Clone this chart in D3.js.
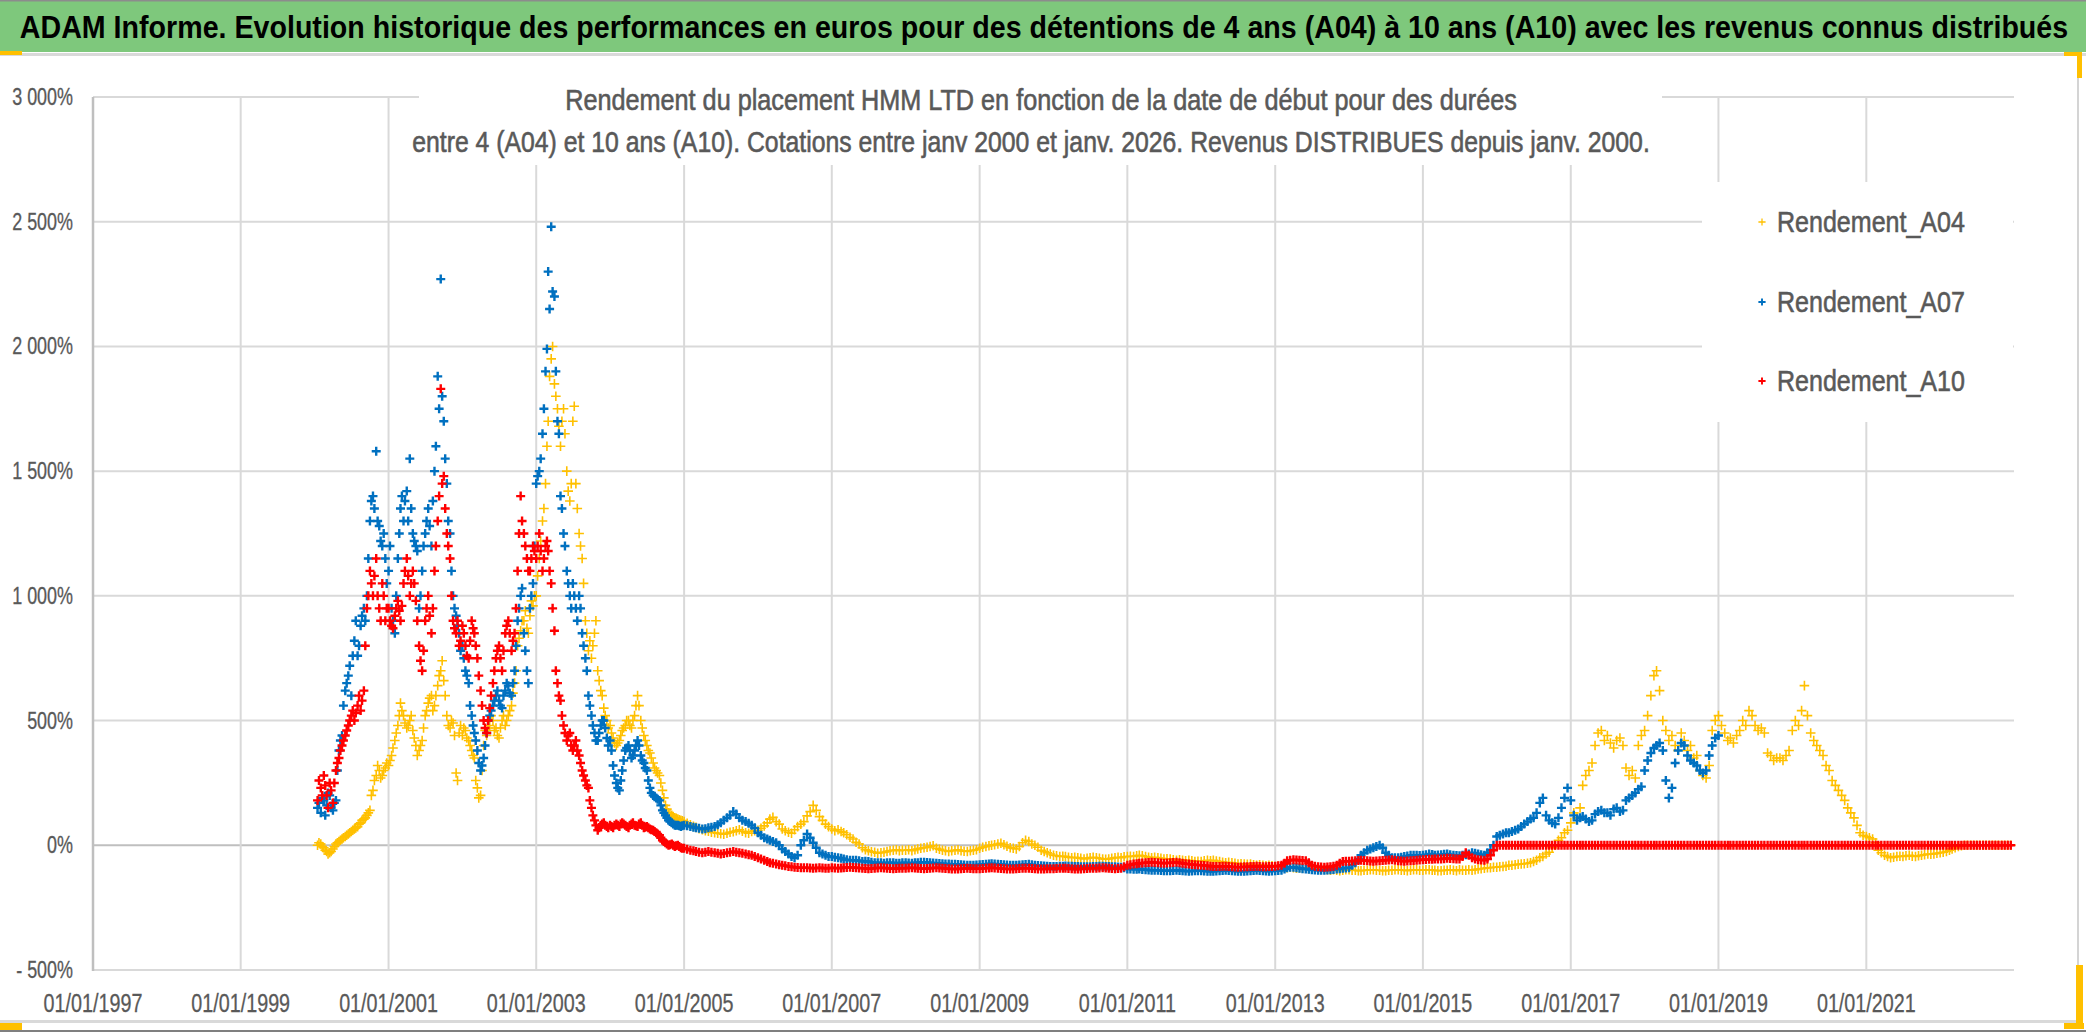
<!DOCTYPE html>
<html>
<head>
<meta charset="utf-8">
<script src="https://cdn.jsdelivr.net/npm/d3@7"></script>
<style>
html, body { margin: 0; padding: 0; background: #fff; }
svg { display: block; }
</style>
</head>
<body>
<svg id="chart"></svg>
<script>
const width = 2086, height = 1032;
const plot = {left: 93, right: 2014, top: 97, bottom: 970};

// axis ticks and labels
const yTicks = [-500, 0, 500, 1000, 1500, 2000, 2500, 3000];
const yTickLabels = ["- 500%", "0%", "500%", "1 000%", "1 500%", "2 000%", "2 500%", "3 000%"];
const xTickYears = [1997, 1999, 2001, 2003, 2005, 2007, 2009, 2011, 2013, 2015, 2017, 2019, 2021];
const xTickLabels = ["01/01/1997", "01/01/1999", "01/01/2001", "01/01/2003", "01/01/2005", "01/01/2007",
  "01/01/2009", "01/01/2011", "01/01/2013", "01/01/2015", "01/01/2017", "01/01/2019", "01/01/2021"];

const seriesNames = ["Rendement_A04", "Rendement_A07", "Rendement_A10"];

// values in %, four a month (1st, 8th, 16th, 23rd), from 16 Jan 2000 to 23 Dec 2004
const a04Early = [
  0, 10,
  5, -5, -10, -20,  -25, -35, -30, -25,  -15, -5, 5, 10,  15, 20, 25, 30,  35, 40, 45, 50,  55, 60, 65, 70,
  75, 85, 90, 100,  105, 110, 120, 130,  140, 200, 220, 260,  280, 320, 300, 270,  280, 300, 310, 330,
  320, 340, 360, 390,  420, 450, 480, 520,  570, 540, 520, 490,  470, 480, 500, 520,  460, 430, 400, 360,  380, 400, 420, 470,
  520, 540, 570, 590,  600, 540, 560, 600,  640, 680, 700, 740,  660, 600, 520, 480,  470, 500, 490, 440,  290, 260, 450, 480,
  440, 470, 460, 430,  420, 400, 380, 360,  350, 260, 230, 190,  200, 300, 400, 460,  440, 470, 480, 520,  500, 460, 470, 440,
  430, 470, 500, 520,  480, 500, 520, 540,  560, 610, 650, 700,  800, 830, 860, 900,  900, 940, 870, 850,  920, 980, 960, 1000,
  1000, 1080, 1150, 1220,  1300, 1350, 1450, 1600,  1700, 1880, 1950, 2000,  1850, 1800, 1750, 1680,  1600, 1700, 1750, 1650,  1500, 1420, 1380, 1450,
  1700, 1760, 1450, 1350,  1250, 1200, 1150, 1050,  900, 850, 780, 820,  750, 800, 850, 900,  700, 660, 620, 600,  550, 520, 500, 470,
  480, 450, 430, 410,  400, 410, 420, 440,  460, 470, 480, 500,  500, 480, 470, 500,  520, 560, 600, 560,  500, 470, 440, 420,
  400, 380, 370, 350,  330, 310, 300, 290,  280, 250, 220, 190,  160, 145, 130, 125,  120, 115, 110, 108,  105, 102, 100, 98
];
const a07Early = [
  150, 170,
  130, 190, 180, 120,  160, 210, 200, 150,  140, 170, 180, 300,  380, 420, 440, 560,  620, 650, 680, 720,  600, 760, 820, 900,
  760, 800, 880, 920,  950, 900, 1000, 1150,  1300, 1380, 1400, 1350,  1580, 1300, 1280, 1220,  1200, 1250, 1150, 1050,
  1100, 1200, 950, 900,  850, 1000, 1150, 1250,  1350, 1400, 1300, 1380,  1420, 1300, 1550, 1350,  1250, 1220, 1200, 1180,  950, 1000, 1100, 1200,
  1250, 1300, 1350, 1280,  1200, 1380, 1500, 1600,  1880, 1750, 2270, 1800,  1700, 1550, 1450, 1300,  1250, 1100, 1000, 950,  920, 880, 850, 780,
  800, 750, 700, 680,  650, 560, 520, 480,  450, 420, 380, 330,  300, 320, 350, 400,  450, 500, 520, 540,  560, 580, 600, 620,
  580, 560, 550, 600,  620, 650, 640, 610,  600, 650, 700, 800,  900, 950, 1000, 1030,  850, 780, 700, 650,  950, 1000, 1050, 1200,
  1450, 1480, 1500, 1550,  1650, 1750, 1900, 1990,  2300, 2150, 2480, 2220,  2200, 1900, 1700, 1650,  1400, 1350, 1250, 1200,  1100, 1050, 1000, 950,
  1050, 1000, 950, 900,  1000, 950, 850, 800,  750, 700, 600, 560,  520, 480, 450, 420,  420, 450, 480, 500,  500, 470, 430, 400,
  420, 380, 320, 280,  250, 230, 220, 260,  300, 340, 380, 390,  400, 380, 350, 360,  380, 400, 420, 400,  360, 340, 330, 310,
  300, 260, 230, 210,  200, 195, 190, 185,  180, 160, 140, 130,  120, 110, 100, 95,  90, 85, 80, 80,  80, 78, 75, 78
];
const a10Early = [
  180, 260,
  230, 200, 280, 240,  200, 150, 250, 220,  170, 250, 300, 330,  350, 380, 400, 420,  440, 460, 480, 500,  520, 540, 500, 530,
  560, 600, 540, 580,  620, 800, 950, 1000,  1100, 1050, 1000, 1080,  1150, 1000, 950, 900,  1050, 1000, 900, 950,
  950, 900, 880, 870,  920, 950, 980, 940,  900, 960, 1050, 1100,  1150, 1080, 1000, 1050,  1100, 1050, 980, 900,  800, 740, 700, 780,
  900, 950, 1000, 920,  850, 950, 1100, 1200,  1300, 1400, 1830, 1450,  1480, 1350, 1250, 1200,  1150, 1000, 900, 870,  850, 900, 800, 820,
  880, 850, 800, 760,  750, 820, 900, 870,  850, 800, 750, 680,  620, 560, 500, 470,  450, 500, 550, 600,  650, 700, 750, 780,
  800, 750, 700, 780,  850, 880, 900, 850,  780, 820, 850, 950,  1100, 1250, 1400, 1300,  1250, 1200, 1150, 1100,  1100, 1150, 1200, 1180,
  1150, 1200, 1250, 1180,  1100, 1150, 1200, 1220,  1180, 1100, 1050, 950,  860, 700, 650, 600,  580, 520, 480, 450,  420, 440, 450, 400,
  380, 400, 420, 380,  360, 330, 300, 280,  260, 240, 230, 180,  150, 120, 100, 80,  60, 70, 80, 85,  90, 80, 75, 70,
  80, 75, 70, 80,  85, 80, 75, 85,  90, 85, 80, 75,  70, 80, 85, 90,  80, 78, 75, 85,  90, 80, 70, 72,
  75, 70, 65, 62,  60, 55, 50, 45,  40, 30, 20, 15,  10, 5, 0, 2,  5, 0, -5, -2,  0, -5, -10, -12
];

// values in %, twice a month (1st and 16th), from 1 Jan 2005
const a04Late = [
  95, 88, 82, 76, 72, 66, 62, 58, 56, 52, 50, 48, 46, 44, 48, 52, 54, 58, 62, 56, 50, 48, 55, 58,
  60, 68, 78, 90, 105, 112, 95, 85, 65, 58, 52, 48, 62, 75, 85, 95, 118, 135, 160, 140, 115, 100, 85, 75,
  65, 58, 62, 55, 50, 42, 32, 25, 12, 5, -10, -18, -22, -26, -28, -32, -30, -28, -25, -22, -20, -18, -22, -20,
  -20, -18, -22, -18, -15, -12, -10, -8, -5, -2, -12, -16, -20, -22, -25, -22, -20, -18, -22, -24, -25, -22, -20, -18,
  -12, -8, -5, -2, 0, 2, 5, 8, 2, -4, -10, -12, -15, -5, 10, 20, 15, 5, 0, -8, -20, -25, -30, -35,
  -40, -42, -45, -44, -45, -48, -50, -48, -50, -52, -55, -52, -50, -48, -50, -52, -55, -56, -55, -52, -50, -48, -50, -46,
  -45, -44, -45, -42, -40, -42, -45, -48, -50, -48, -50, -52, -55, -54, -55, -58, -60, -58, -60, -62, -60, -62, -65, -64,
  -65, -62, -60, -62, -60, -63, -65, -68, -70, -68, -70, -72, -75, -74, -75, -76, -75, -78, -80, -78, -80, -82, -80, -82,
  -85, -84, -85, -88, -90, -88, -90, -92, -90, -92, -90, -94, -95, -94, -95, -96, -95, -98, -100, -98, -100, -102, -100, -98,
  -98, -100, -100, -102, -102, -100, -100, -98, -98, -100, -100, -102, -102, -100, -100, -98, -98, -100, -100, -102, -100, -98, -98, -100,
  -100, -98, -98, -100, -100, -102, -102, -100, -100, -98, -100, -102, -98, -100, -100, -98, -100, -98, -95, -94, -92, -90, -90, -88,
  -88, -86, -85, -84, -80, -80, -78, -76, -75, -74, -72, -70, -65, -60, -50, -45, -35, -28, -10, 0, 20, 30, 50, 60,
  90, 130, 110, 150, 240, 280, 300, 330, 400, 450, 460, 420, 440, 410, 390, 420, 430, 400, 310, 280, 300, 270, 400, 440,
  460, 520, 600, 680, 700, 620, 500, 460, 420, 440, 400, 380, 450, 420, 380, 400, 350, 360, 300, 280, 270, 320, 460, 500,
  520, 480, 450, 420, 430, 410, 440, 460, 500, 480, 540, 520, 480, 460, 470, 450, 370, 360, 340, 350, 350, 340, 360, 380,
  460, 500, 480, 540, 640, 520, 450, 420, 400, 380, 360, 320, 300, 260, 240, 220, 200, 180, 150, 130, 110, 80, 50, 40,
  35, 30, 25, 10, -20, -30, -40, -45, -50, -48, -45, -44, -45, -42, -40, -44, -45, -42, -40, -38, -35, -36, -35, -32,
  -30, -28, -25, -20, -15, -10, -5, -2, 0, 0, 0, 0, 0, 0, 0, 0, 0, 0, 0, 0, 0, 0, 0, 0
];
const a07Late = [
  80, 78, 75, 72, 70, 68, 65, 66, 70, 72, 75, 82, 90, 100, 110, 120, 135, 125, 110, 100, 95, 88, 80, 70,
  50, 40, 30, 25, 20, 15, 10, 0, -15, -25, -35, -45, -50, -40, 0, 20, 45, 30, 10, -10, -30, -35, -40, -45,
  -45, -48, -50, -52, -55, -58, -60, -60, -60, -62, -65, -64, -65, -68, -70, -70, -70, -72, -70, -70, -70, -72, -72, -70,
  -70, -71, -72, -70, -70, -68, -68, -69, -70, -71, -72, -73, -74, -75, -75, -76, -76, -77, -78, -79, -80, -80, -80, -79,
  -78, -77, -76, -75, -74, -75, -76, -77, -78, -79, -80, -80, -80, -79, -78, -77, -76, -78, -80, -81, -82, -83, -84, -85,
  -85, -85, -84, -84, -83, -84, -84, -85, -85, -86, -86, -86, -86, -85, -85, -84, -84, -85, -85, -86, -86, -87, -88, -90,
  -95, -95, -96, -96, -95, -97, -98, -99, -100, -100, -100, -101, -102, -102, -102, -101, -100, -101, -102, -103, -104, -103, -102, -102,
  -102, -103, -104, -104, -104, -103, -102, -101, -100, -101, -102, -103, -104, -104, -104, -103, -102, -101, -100, -101, -102, -103, -104, -103,
  -102, -101, -100, -95, -90, -88, -88, -90, -92, -94, -95, -96, -98, -99, -100, -100, -100, -99, -98, -97, -95, -94, -92, -91,
  -90, -80, -70, -55, -40, -30, -20, -15, -10, -5, 0, -10, -30, -40, -50, -50, -50, -48, -45, -43, -40, -40, -40, -41,
  -40, -38, -35, -37, -40, -39, -38, -36, -35, -38, -40, -41, -42, -40, -38, -35, -30, -32, -35, -38, -40, -30, -20, 0,
  35, 40, 45, 50, 50, 55, 60, 65, 75, 85, 95, 105, 110, 130, 170, 190, 120, 100, 90, 85, 110, 150, 190, 230,
  180, 120, 100, 110, 115, 105, 95, 100, 125, 135, 140, 130, 130, 120, 145, 150, 135, 140, 180, 190, 200, 210, 225, 235,
  300, 340, 370, 390, 400, 410, 380, 260, 190, 230, 330, 380, 410, 400, 360, 340, 330, 320, 300, 290, 300, 360, 400, 430,
  440
];
const a10Late = [
  -12, -16, -20, -22, -25, -28, -30, -28, -25, -28, -30, -32, -35, -33, -30, -28, -25, -28, -30, -32, -35, -38, -40, -45,
  -50, -55, -60, -65, -70, -72, -75, -78, -80, -82, -85, -86, -88, -89, -90, -90, -90, -91, -92, -91, -90, -91, -92, -92,
  -90, -91, -92, -91, -90, -89, -88, -89, -90, -91, -92, -93, -94, -93, -92, -91, -90, -91, -92, -93, -94, -93, -92, -92,
  -92, -91, -90, -91, -92, -93, -94, -93, -92, -91, -90, -91, -92, -93, -94, -95, -95, -95, -94, -93, -92, -93, -94, -94,
  -94, -93, -92, -91, -90, -91, -92, -93, -94, -95, -95, -95, -94, -93, -92, -92, -92, -93, -94, -95, -95, -95, -94, -94,
  -94, -93, -92, -92, -92, -93, -94, -95, -95, -95, -94, -93, -92, -92, -92, -91, -90, -91, -92, -93, -94, -93, -92, -86,
  -80, -78, -75, -74, -72, -71, -70, -69, -68, -69, -70, -71, -72, -71, -70, -69, -68, -70, -72, -74, -75, -77, -78, -79,
  -80, -81, -82, -84, -85, -85, -85, -84, -84, -85, -86, -87, -88, -87, -86, -86, -85, -85, -84, -85, -86, -86, -85, -85,
  -84, -82, -80, -72, -62, -60, -58, -59, -60, -61, -62, -70, -80, -84, -86, -87, -88, -87, -86, -84, -80, -72, -65, -64,
  -64, -63, -62, -61, -60, -61, -62, -63, -64, -63, -62, -61, -60, -59, -58, -60, -62, -63, -64, -63, -62, -61, -60, -59,
  -58, -57, -56, -56, -55, -55, -55, -54, -52, -53, -54, -55, -55, -45, -30, -40, -50, -55, -58, -59, -60, -55, -40, -20,
  0, 0, 0, 0, 0, 0, 0, 0, 0, 0, 0, 0, 0, 0, 0, 0, 0, 0, 0, 0, 0, 0, 0, 0,
  0, 0, 0, 0, 0, 0, 0, 0, 0, 0, 0, 0, 0, 0, 0, 0, 0, 0, 0, 0, 0, 0, 0, 0,
  0, 0, 0, 0, 0, 0, 0, 0, 0, 0, 0, 0, 0, 0, 0, 0, 0, 0, 0, 0, 0, 0, 0, 0,
  0, 0, 0, 0, 0, 0, 0, 0, 0, 0, 0, 0, 0, 0, 0, 0, 0, 0, 0, 0, 0, 0, 0, 0,
  0, 0, 0, 0, 0, 0, 0, 0, 0, 0, 0, 0, 0, 0, 0, 0, 0, 0, 0, 0, 0, 0, 0, 0,
  0, 0, 0, 0, 0, 0, 0, 0, 0, 0, 0, 0, 0, 0, 0, 0, 0, 0, 0, 0, 0, 0, 0, 0,
  0, 0, 0, 0, 0, 0, 0, 0, 0, 0, 0, 0, 0, 0, 0, 0, 0, 0, 0, 0, 0, 0, 0, 0
];

const weekDays = [1, 8, 16, 23];
const earlyDate = w => { const n = w + 2; return new Date(2000, Math.floor(n / 4), weekDays[n % 4]); };
const lateDate = j => new Date(2005, Math.floor(j / 2), j % 2 ? 16 : 1);
const toPoints = (early, late) =>
  early.map((v, w) => ({date: earlyDate(w), value: v}))
    .concat(late.map((v, j) => ({date: lateDate(j), value: v})));

const series = [
  {name: seriesNames[0], color: "#FFC000", arm: 4.8, sw: 1.6, points: toPoints(a04Early, a04Late)},
  {name: seriesNames[1], color: "#0070C0", arm: 4.5, sw: 2.4, points: toPoints(a07Early, a07Late)},
  {name: seriesNames[2], color: "#FF0000", arm: 4.5, sw: 2.4, points: toPoints(a10Early, a10Late)}
];

const sans = "'Liberation Sans', Arial, sans-serif";
const textGray = "#595959";

const svg = d3.select("#chart").attr("width", width).attr("height", height);

// text drawn in a regular sans and squeezed to the condensed look of the original
function squeezed(parent, px, py, str, size, opt) {
  const g = parent.append("g").attr("transform", `translate(${px},${py})`);
  const fill = opt.fill || textGray;
  const t = g.append("text")
    .attr("font-family", sans).attr("font-size", size)
    .attr("font-weight", opt.bold ? "bold" : "normal")
    .attr("text-anchor", opt.anchor || "start")
    .attr("fill", fill)
    .attr("stroke", opt.heavy ? fill : "none")
    .attr("stroke-width", opt.heavy || 0)
    .text(str);
  const sx = opt.width ? opt.width / t.node().getComputedTextLength() : opt.sx;
  g.attr("transform", `translate(${px},${py}) scale(${sx},1)`);
  return g;
}

const x = d3.scaleTime()
  .domain([new Date(1997, 0, 1), new Date(2023, 0, 1)])
  .range([plot.left, plot.right]);
const y = d3.scaleLinear()
  .domain([-500, 3000])
  .range([plot.bottom, plot.top]);

// frame and header band
svg.append("rect").attr("width", width).attr("height", height).attr("fill", "#fff");
svg.append("rect").attr("x", 0).attr("y", 0).attr("width", width).attr("height", 52).attr("fill", "#7ec87c");
svg.append("rect").attr("x", 0).attr("y", 0).attr("width", width).attr("height", 1.5).attr("fill", "#8c8c8c");
svg.append("rect").attr("x", 0).attr("y", 53).attr("width", width).attr("height", 3).attr("fill", "#d9d9d9");
svg.append("rect").attr("x", 2077).attr("y", 56).attr("width", 2).attr("height", 967).attr("fill", "#d4d4d4");
svg.append("rect").attr("x", 0).attr("y", 1020).attr("width", 2079).attr("height", 3).attr("fill", "#d9d9d9");
svg.append("rect").attr("x", 0).attr("y", 1030).attr("width", width).attr("height", 2).attr("fill", "#7f7f7f");

squeezed(svg, 1044, 38,
  "ADAM Informe. Evolution historique des performances en euros pour des détentions de 4 ans (A04) à 10 ans (A10) avec les revenus connus distribués",
  31, {bold: true, anchor: "middle", width: 2049, fill: "#000"});

// gridlines
const grid = svg.append("g");
grid.selectAll("line.h")
  .data(yTicks)
  .enter().append("line")
  .attr("x1", plot.left).attr("x2", plot.right)
  .attr("y1", d => y(d)).attr("y2", d => y(d))
  .attr("stroke", d => d === 0 ? "#bfbfbf" : "#d9d9d9")
  .attr("stroke-width", 2);
grid.selectAll("line.v")
  .data(xTickYears.slice(1))
  .enter().append("line")
  .attr("x1", d => x(new Date(d, 0, 1))).attr("x2", d => x(new Date(d, 0, 1)))
  .attr("y1", plot.top).attr("y2", plot.bottom)
  .attr("stroke", "#d9d9d9")
  .attr("stroke-width", 2);
svg.append("line")
  .attr("x1", plot.left).attr("x2", plot.left)
  .attr("y1", plot.top).attr("y2", plot.bottom + 1)
  .attr("stroke", "#bfbfbf").attr("stroke-width", 2.5);

// axis labels
const yLabels = svg.append("g");
yTicks.forEach((d, i) => squeezed(yLabels, 73, y(d) + 8, yTickLabels[i], 23, {anchor: "end", sx: 0.78, heavy: 0.3}));
const xLabels = svg.append("g");
xTickYears.forEach((d, i) => squeezed(xLabels, x(new Date(d, 0, 1)), 1012, xTickLabels[i], 26, {anchor: "middle", sx: 0.76, heavy: 0.3}));

// points
const cross = a => `M${-a},0H${a}M0,${-a}V${a}`;
series.forEach(s => {
  svg.append("g")
    .selectAll("path")
    .data(s.points)
    .enter().append("path")
    .attr("transform", d => `translate(${x(d.date)},${y(d.value)})`)
    .attr("d", cross(s.arm))
    .attr("fill", "none")
    .attr("stroke", s.color)
    .attr("stroke-width", s.sw);
});

// chart title box
svg.append("rect").attr("x", 419).attr("y", 62).attr("width", 1243).attr("height", 103).attr("fill", "#fff");
squeezed(svg, 1041, 110, "Rendement du placement HMM LTD en fonction de la date de début pour des durées",
  29, {anchor: "middle", width: 952, heavy: 0.6});
squeezed(svg, 1031, 152, "entre 4 (A04) et 10 ans (A10). Cotations entre janv 2000 et janv. 2026. Revenus DISTRIBUES depuis janv. 2000.",
  29, {anchor: "middle", width: 1238, heavy: 0.6});

// legend
const legend = svg.append("g");
legend.append("rect").attr("x", 1702).attr("y", 182).attr("width", 311).attr("height", 240).attr("fill", "#fff");
const legendY = [222, 302, 381];
series.forEach((s, i) => {
  legend.append("path")
    .attr("transform", `translate(1762,${legendY[i]})`)
    .attr("d", cross(3.6))
    .attr("fill", "none")
    .attr("stroke", s.color)
    .attr("stroke-width", s.sw * 0.8);
  squeezed(legend, 1777, legendY[i] + 10, s.name, 30, {width: 188, heavy: 0.6});
});

// selection handles
const handles = [[0, 51, 22, 4], [2064, 52, 18, 4], [2077, 52, 5, 26], [2076, 965, 7, 62], [2064, 1023, 20, 6], [0, 1023, 22, 7]];
svg.append("g").selectAll("rect")
  .data(handles)
  .enter().append("rect")
  .attr("x", d => d[0]).attr("y", d => d[1]).attr("width", d => d[2]).attr("height", d => d[3])
  .attr("fill", "#FFC000");
</script>
</body>
</html>
